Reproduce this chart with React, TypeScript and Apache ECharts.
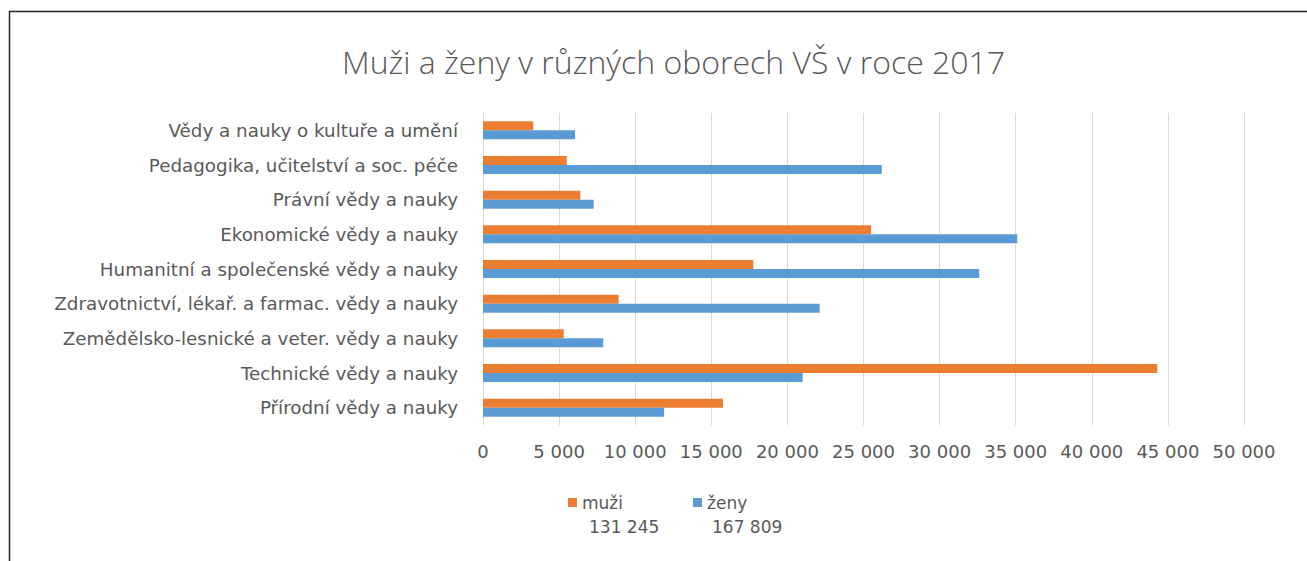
import React, { useEffect, useRef } from "react";
import * as echarts from "echarts";

const categories = [
  "Přírodní vědy a nauky",
  "Technické vědy a nauky",
  "Zemědělsko-lesnické a veter. vědy a nauky",
  "Zdravotnictví, lékař. a farmac. vědy a nauky",
  "Humanitní a společenské vědy a nauky",
  "Ekonomické vědy a nauky",
  "Právní vědy a nauky",
  "Pedagogika, učitelství a soc. péče",
  "Vědy a nauky o kultuře a umění",
];
const muzi = [15770, 44300, 5300, 8910, 17760, 25500, 6400, 5500, 3300];
const zeny = [11900, 21000, 7900, 22120, 32600, 35100, 7270, 26200, 6050];
const totalMuzi = "131 245";
const totalZeny = "167 809";
const titleText = "Muži a ženy v různých oborech VŠ v roce 2017";

const GRAY = "#595959";
const FONT = "DejaVu Sans";
const TITLE_FONT = "Open Sans";

export default function App() {
  const ref = useRef<HTMLDivElement>(null);
  useEffect(() => {
    const chart = echarts.init(ref.current!, null, { renderer: "svg" });
    const fmt = (v: number) =>
      String(v).replace(/\B(?=(\d{3})+(?!\d))/g, " ");
    chart.setOption({
      animation: false,
      backgroundColor: "#ffffff",
      title: {
        text: titleText,
        left: 337,
        top: 40,
        textStyle: {
          color: GRAY,
          fontFamily: TITLE_FONT,
          fontWeight: 300,
          fontSize: 32,
        },
      },
      grid: { left: 483, right: 63, top: 113, bottom: 136 },
      xAxis: {
        type: "value",
        min: 0,
        max: 50000,
        interval: 5000,
        axisLine: { show: false },
        axisTick: { show: false },
        splitLine: { lineStyle: { color: "#d9d9d9", width: 1 } },
        axisLabel: {
          color: GRAY,
          fontFamily: FONT,
          fontSize: 18,
          margin: 17,
          formatter: (v: number) => fmt(v),
        },
      },
      yAxis: {
        type: "category",
        data: categories,
        axisLine: { show: false },
        axisTick: { show: false },
        axisLabel: {
          color: GRAY,
          fontFamily: FONT,
          fontSize: 18.3,
          margin: 25,
        },
      },
      legend: [
        {
          data: ["muži"],
          left: 563,
          top: 489,
          itemWidth: 9,
          itemHeight: 9,
          itemGap: 6,
          icon: "rect",
          textStyle: { color: GRAY, fontFamily: FONT, fontSize: 17 },
        },
        {
          data: ["ženy"],
          left: 688,
          top: 489,
          itemWidth: 9,
          itemHeight: 9,
          icon: "rect",
          textStyle: { color: GRAY, fontFamily: FONT, fontSize: 17 },
        },
      ],
      graphic: [
        {
          type: "rect",
          shape: { x: 9.5, y: 11.5, width: 1400, height: 700 },
          style: { fill: "none", stroke: "#262626", lineWidth: 1.5 },
          silent: true,
        },
        {
          type: "text",
          left: 589,
          top: 518,
          style: {
            text: totalMuzi,
            fill: GRAY,
            font: `17px "${FONT}"`,
          },
        },
        {
          type: "text",
          left: 712,
          top: 518,
          style: {
            text: totalZeny,
            fill: GRAY,
            font: `17px "${FONT}"`,
          },
        },
      ],
      series: [
        {
          name: "muži",
          type: "bar",
          data: muzi,
          barWidth: 9,
          barGap: "0%",
          itemStyle: { color: "#ed7d31" },
        },
        {
          name: "ženy",
          type: "bar",
          data: zeny,
          barWidth: 9,
          barGap: "0%",
          itemStyle: { color: "#5b9bd5" },
        },
      ],
    });
    return () => chart.dispose();
  }, []);
  return (
    <div
      ref={ref}
      style={{ position: "fixed", left: 0, top: 0, width: 1307, height: 561 }}
    />
  );
}
